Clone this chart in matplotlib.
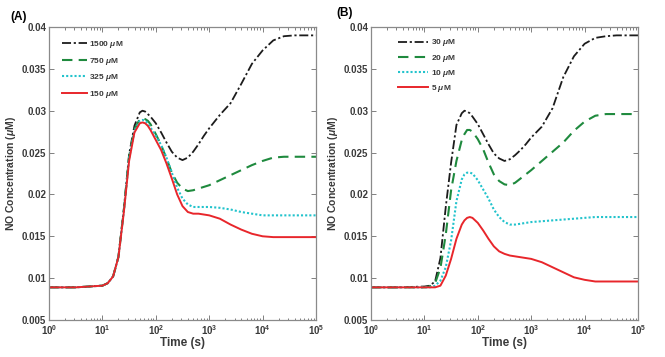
import numpy as np
import matplotlib
matplotlib.use("Agg")
import matplotlib.pyplot as plt
from matplotlib.ticker import FixedLocator, FuncFormatter, LogLocator, NullFormatter

plt.rcParams['font.family'] = ['Liberation Sans', 'DejaVu Sans']
plt.rcParams['mathtext.fontset'] = 'custom'
plt.rcParams['mathtext.rm'] = 'Liberation Sans'
plt.rcParams['mathtext.it'] = 'Liberation Sans:italic:bold'
plt.rcParams['mathtext.bf'] = 'Liberation Sans:bold'

# log10 of time (s)
log_time = [0, 0.5, 1.0, 1.1, 1.2, 1.3, 1.4, 1.5, 1.6, 1.7, 1.75, 1.8, 1.85,
            1.9, 2.0, 2.1, 2.2, 2.3, 2.4, 2.5, 2.6, 2.7, 2.8, 2.9, 3.0,
            3.2, 3.4, 3.6, 3.8, 4.0, 4.2, 4.4, 4.6, 4.8, 5.0]

# Panel A
labels_a = ['1500 $\\mu$M', '750 $\\mu$M', '325 $\\mu$M', '150 $\\mu$M']
a_1500 = [0.0089, 0.0089, 0.0091, 0.0094, 0.0102, 0.0126, 0.0182, 0.0248, 0.0282, 0.0298,
          0.0300, 0.0299, 0.0296,
          0.0293, 0.0285, 0.0274, 0.0262, 0.0251, 0.0244, 0.0241, 0.0244, 0.0251, 0.0260, 0.0270, 0.0279,
          0.0295, 0.0309, 0.0332, 0.0356, 0.0372, 0.0384, 0.0389, 0.0390, 0.0390, 0.0390]
a_750 = [0.0089, 0.0089, 0.0091, 0.0094, 0.0102, 0.0125, 0.0180, 0.0245, 0.0278, 0.0290,
         0.0291, 0.0290, 0.0288,
         0.0284, 0.0272, 0.0259, 0.0243, 0.0226, 0.0214, 0.0207, 0.0204, 0.0205, 0.0207, 0.0209, 0.0211,
         0.0217, 0.0223, 0.0229, 0.0235, 0.0240, 0.0244, 0.0245, 0.0245, 0.0245, 0.0245]
a_325 = [0.0089, 0.0089, 0.0091, 0.0094, 0.0102, 0.0125, 0.0179, 0.0243, 0.0276, 0.0288,
         0.0289, 0.0288, 0.0285,
         0.0280, 0.0270, 0.0259, 0.0244, 0.0226, 0.0208, 0.0195, 0.0188, 0.0185, 0.0185, 0.0185, 0.0185,
         0.0184, 0.0182, 0.0179, 0.0177, 0.0175, 0.0175, 0.0175, 0.0175, 0.0175, 0.0175]
a_150 = [0.0089, 0.0089, 0.0091, 0.0094, 0.0102, 0.0125, 0.0178, 0.0240, 0.0274, 0.0285,
         0.0286, 0.0285, 0.0282,
         0.0277, 0.0265, 0.0253, 0.0237, 0.0219, 0.0200, 0.0186, 0.0179, 0.0177, 0.0177, 0.0176, 0.0175,
         0.0171, 0.0164, 0.0158, 0.0153, 0.0150, 0.0149, 0.0149, 0.0149, 0.0149, 0.0149]

# Panel B
labels_b = ['30 $\\mu$M', '20 $\\mu$M', '10 $\\mu$M', '5 $\\mu$M']
b_30 = [0.0089, 0.0089, 0.0090, 0.0091, 0.0096, 0.0124, 0.0185, 0.0238, 0.0283, 0.0297,
        0.0300, 0.0299, 0.0297,
        0.0293, 0.0284, 0.0272, 0.0260, 0.0249, 0.0243, 0.0240, 0.0242, 0.0247, 0.0253, 0.0260, 0.0268,
        0.0281, 0.0303, 0.0340, 0.0365, 0.0380, 0.0387, 0.0389, 0.0390, 0.0390, 0.0390]
b_20 = [0.0089, 0.0089, 0.0089, 0.0090, 0.0094, 0.0112, 0.0152, 0.0205, 0.0240, 0.0265,
        0.0272, 0.0277, 0.0277,
        0.0275, 0.0266, 0.0254, 0.0238, 0.0224, 0.0216, 0.0212, 0.0211, 0.0214, 0.0219, 0.0224, 0.0229,
        0.0240, 0.0251, 0.0262, 0.0276, 0.0287, 0.0294, 0.0296, 0.0296, 0.0296, 0.0296]
b_10 = [0.0089, 0.0089, 0.0089, 0.0089, 0.0091, 0.0097, 0.0113, 0.0145, 0.0192, 0.0218,
        0.0224, 0.0226, 0.0226,
        0.0225, 0.0217, 0.0206, 0.0195, 0.0182, 0.0173, 0.0167, 0.0164, 0.0164, 0.0165, 0.0166, 0.0167,
        0.0168, 0.0169, 0.0170, 0.0171, 0.0172, 0.0173, 0.0173, 0.0173, 0.0173, 0.0173]
b_5 = [0.0089, 0.0089, 0.0089, 0.0089, 0.0089, 0.0091, 0.0103, 0.0123, 0.0147, 0.0164,
       0.0169, 0.0172, 0.0173,
       0.0172, 0.0166, 0.0157, 0.0147, 0.0138, 0.0132, 0.0129, 0.0127, 0.0126, 0.0125, 0.0124, 0.0123,
       0.0119, 0.0113, 0.0107, 0.0101, 0.0098, 0.0096, 0.0096, 0.0096, 0.0096, 0.0096]

y_ticks = [0.005, 0.01, 0.015, 0.02, 0.025, 0.03, 0.035, 0.04]

styles = [
    dict(color='#1c1c1c', linestyle=(0, (5, 1.5, 1.2, 1.5)), lw=1.3),
    dict(color='#1f8a3e', linestyle=(0, (5, 3)), lw=1.5),
    dict(color='#22c3cc', linestyle=(0, (1, 1)), lw=1.5),
    dict(color='#e8262b', linestyle='-', lw=1.4),
]

fig = plt.figure(figsize=(6.65, 3.57), dpi=100)
ax_a = fig.add_axes([49/665, 37/357, 267/665, 293/357])
ax_b = fig.add_axes([371/665, 37/357, 267/665, 293/357])

t = 10.0 ** np.array(log_time)
tick_color = '#3a3a3a'

def style_axes(ax):
    ax.set_xscale('log')
    ax.set_xlim(1, 1e5)
    ax.set_ylim(0.005, 0.04)
    ax.yaxis.set_major_locator(FixedLocator(y_ticks))
    ax.yaxis.set_major_formatter(FuncFormatter(lambda v, p: '%g' % v))
    ax.xaxis.set_major_locator(LogLocator(base=10, numticks=10))
    ax.xaxis.set_minor_locator(LogLocator(base=10, subs=np.arange(2, 10), numticks=20))
    ax.xaxis.set_minor_formatter(NullFormatter())
    ax.tick_params(which='both', direction='in', top=True, right=True, colors='#808080',
                   labelcolor=tick_color, labelsize=7, width=0.7)
    ax.tick_params(which='major', length=3.5, pad=2)
    ax.tick_params(which='minor', length=1.8)
    for lab in ax.get_xticklabels() + ax.get_yticklabels():
        lab.set_fontweight('bold')
    for s in ax.spines.values():
        s.set_color('#8a8a8a')
        s.set_linewidth(0.9)
    ax.set_xlabel('Time (s)', fontsize=8.5, fontweight='bold', color=tick_color, labelpad=0)
    ax.set_ylabel('NO Concentration ($\\mu$M)', fontsize=7.5, fontweight='bold', color=tick_color, labelpad=3)

for ax, series, labels in [(ax_a, [a_1500, a_750, a_325, a_150], labels_a),
                           (ax_b, [b_30, b_20, b_10, b_5], labels_b)]:
    for vals, lab, st in zip(series, labels, styles):
        ax.plot(t, vals, label=lab, **st)
    style_axes(ax)

leg_a = ax_a.legend(loc='upper left', bbox_to_anchor=(0.019, 0.985), frameon=False,
                    handlelength=3.0, labelspacing=0.69, handletextpad=0.3,
                    prop=dict(size=6, weight='bold'))
leg_b = ax_b.legend(loc='upper left', bbox_to_anchor=(0.074, 0.99), frameon=False,
                    handlelength=3.6, labelspacing=0.5, handletextpad=0.3,
                    prop=dict(size=6, weight='bold'))
for leg in (leg_a, leg_b):
    for txt in leg.get_texts():
        txt.set_color(tick_color)

fig.text(10/665, 1 - 17/357, '(A)', fontsize=8.5, fontweight='bold', va='center', ha='left')
fig.text(336/665, 1 - 13/357, '(B)', fontsize=8.5, fontweight='bold', va='center', ha='left')

fig.savefig('out.png', dpi=100)
